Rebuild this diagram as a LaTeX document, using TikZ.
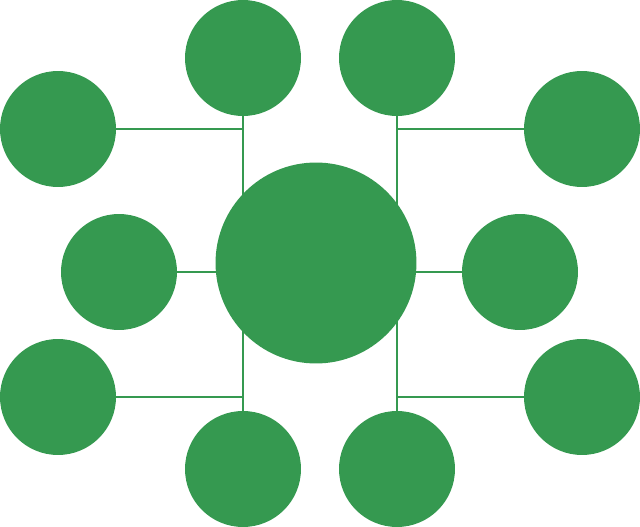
\documentclass[tikz,border=0pt]{standalone}
\usepackage{tikz}
\definecolor{leafgreen}{RGB}{53,153,80}

\begin{document}
\begin{tikzpicture}[x=0.02cm, y=-0.02cm,
        leaf/.style={circle, fill=leafgreen, inner sep=0pt, minimum size=2.32cm},
        hub/.style={circle, fill=leafgreen, inner sep=0pt, minimum size=4.02cm},
        link/.style={draw=leafgreen, line width=1.7pt}]
        \useasboundingbox (0,0) rectangle (640,527);
        \node[hub] (hub) at (316,263) {};
        \node[leaf] (tl) at (243,58) {};
        \node[leaf] (tr) at (397,58) {};
        \node[leaf] (bl) at (243,469) {};
        \node[leaf] (br) at (397,469) {};
        \node[leaf] (ul) at (58,129) {};
        \node[leaf] (ur) at (582,129) {};
        \node[leaf] (ml) at (119,272) {};
        \node[leaf] (mr) at (520,272) {};
        \node[leaf] (ll) at (58,397) {};
        \node[leaf] (lr) at (582,397) {};
        % spines and branches
        \draw[link] (tl) -- (bl);
        \draw[link] (tr) -- (br);
        \draw[link] (ml) -- (mr);
        \draw[link] (ul) -- (ul -| tl);
        \draw[link] (ll) -- (ll -| bl);
        \draw[link] (ur) -- (ur -| tr);
        \draw[link] (lr) -- (lr -| br);
    \end{tikzpicture}
\end{document}
